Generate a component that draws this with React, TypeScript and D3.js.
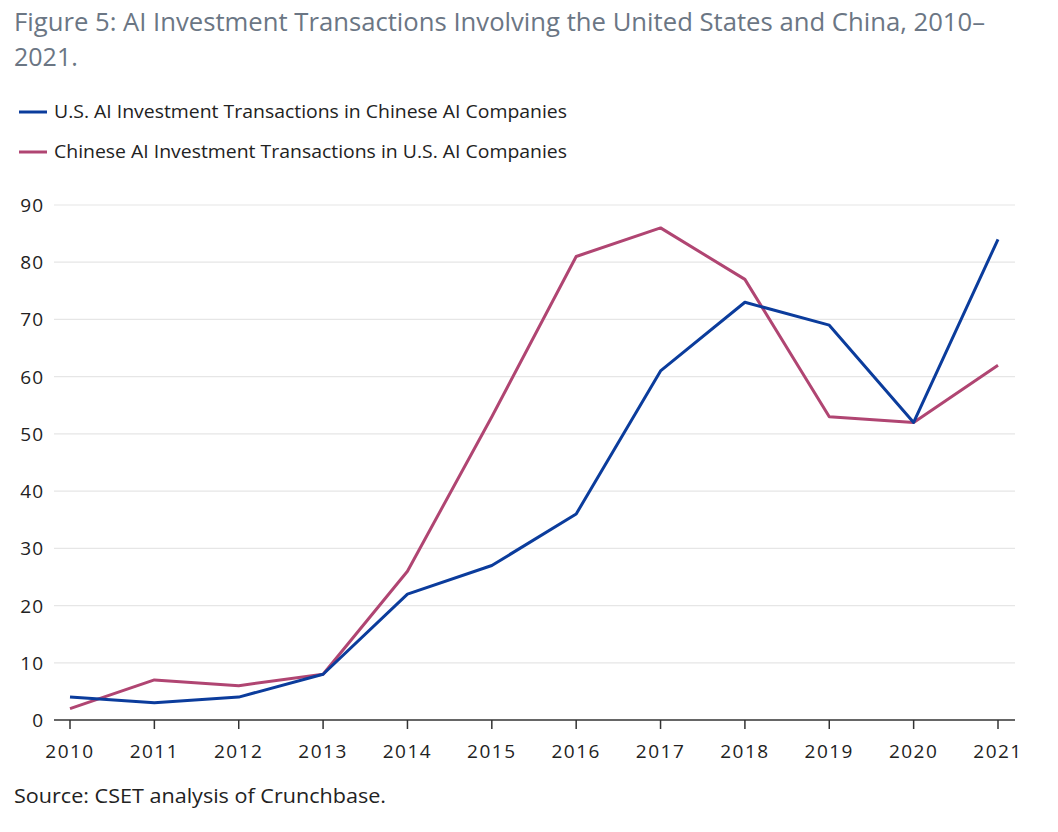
import React from "react";
import * as d3 from "d3";

const years = [2010, 2011, 2012, 2013, 2014, 2015, 2016, 2017, 2018, 2019, 2020, 2021];
const usInChina = [4, 3, 4, 8, 22, 27, 36, 61, 73, 69, 52, 84];
const chinaInUs = [2, 7, 6, 8, 26, 53, 81, 86, 77, 53, 52, 62];
const yTicks = [0, 10, 20, 30, 40, 50, 60, 70, 80, 90];
const seriesNames = [
  "U.S. AI Investment Transactions in Chinese AI Companies",
  "Chinese AI Investment Transactions in U.S. AI Companies",
];
const seriesColors = ["#0b3c9c", "#b04572"];

export default function App() {
  const W = 1058, H = 832;
  const x = d3.scaleLinear().domain([2010, 2021]).range([70, 998]);
  const y = d3.scaleLinear().domain([0, 90]).range([720, 205]);
  const line = d3.line<number>().x((_, i) => x(years[i])).y((d) => y(d));
  const font = "'Open Sans', Lato, sans-serif";
  return (
    <svg width={W} height={H} style={{ position: "absolute", left: 0, top: 0 }} fontFamily={font}>
      <rect width={W} height={H} fill="#fff" />
      <text x={14} y={31} fontSize={25} fill="#6b7684" textLength={971} lengthAdjust="spacingAndGlyphs">
        Figure 5: AI Investment Transactions Involving the United States and China, 2010–
      </text>
      <text x={14} y={66} fontSize={25} fill="#6b7684">2021.</text>
      {seriesNames.map((n, i) => (
        <g key={n}>
          <line x1={19} x2={47} y1={112 + i * 40} y2={112 + i * 40} stroke={seriesColors[i]} strokeWidth={3} />
          <text x={54} y={118 + i * 40} fontSize={19} fill="#222" textLength={513} lengthAdjust="spacingAndGlyphs">{n}</text>
        </g>
      ))}
      {yTicks.map((t) => (
        <g key={t}>
          {t > 0 && <line x1={54} x2={1015} y1={y(t)} y2={y(t)} stroke="#e6e6e6" strokeWidth={1.2} />}
          <text x={44} y={y(t) + 7} fontSize={19} textAnchor="end" fill="#222" letterSpacing={1}>{t}</text>
        </g>
      ))}
      <line x1={54} x2={1015} y1={y(0)} y2={y(0)} stroke="#333" strokeWidth={1.5} />
      {years.map((yr) => (
        <g key={yr}>
          <line x1={x(yr)} x2={x(yr)} y1={y(0)} y2={y(0) + 9} stroke="#333" strokeWidth={1.5} />
          <text x={x(yr)} y={758} fontSize={19} textAnchor="middle" fill="#222" letterSpacing={1.5}>{yr}</text>
        </g>
      ))}
      <path d={line(chinaInUs) || ""} fill="none" stroke={seriesColors[1]} strokeWidth={3} strokeLinejoin="round" />
      <path d={line(usInChina) || ""} fill="none" stroke={seriesColors[0]} strokeWidth={3} strokeLinejoin="round" />
      <text x={14} y={803} fontSize={20} fill="#222" textLength={372} lengthAdjust="spacingAndGlyphs">Source: CSET analysis of Crunchbase.</text>
    </svg>
  );
}
